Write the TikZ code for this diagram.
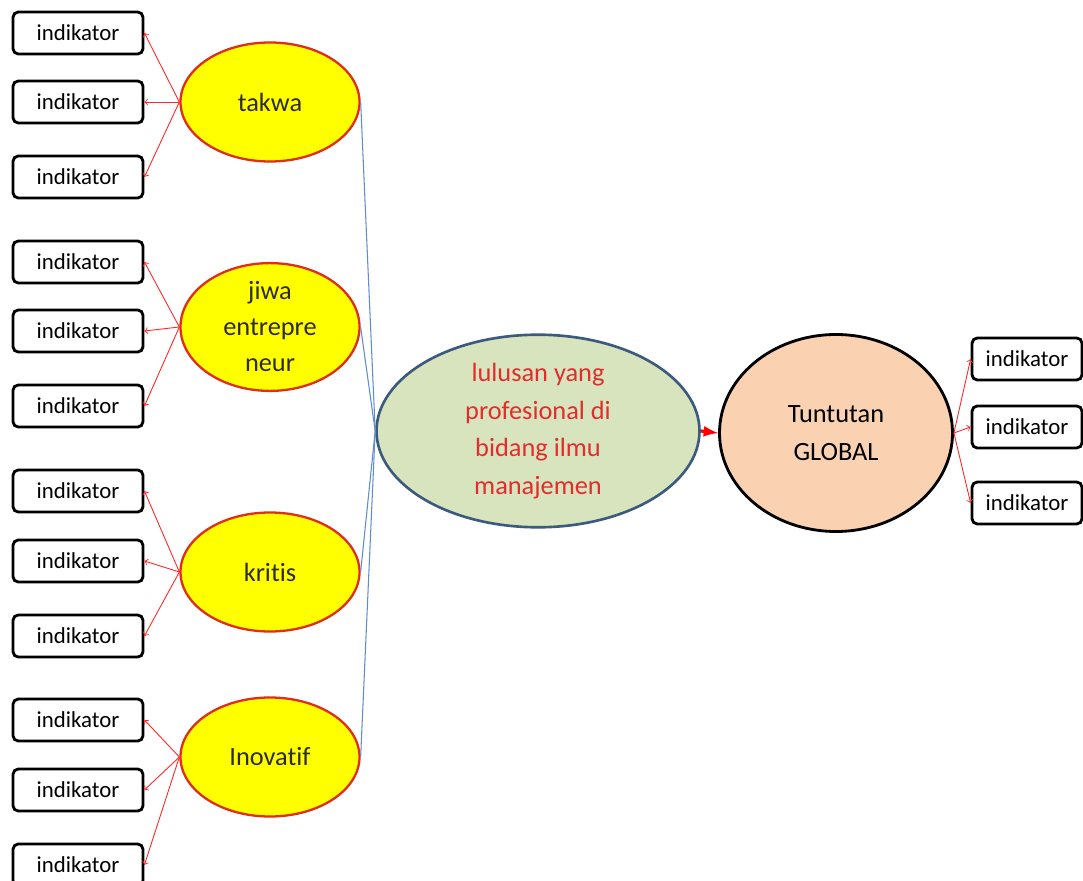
\documentclass[tikz,border=0pt]{standalone}
\usepackage{fontspec}
\setmainfont[Ligatures=NoCommon]{Carlito}
\usetikzlibrary{shapes.geometric}

\definecolor{kuning}{RGB}{255,255,0}
\definecolor{tepimerah}{RGB}{225,45,20}
\definecolor{hijau}{RGB}{215,228,189}
\definecolor{tepihijau}{RGB}{60,90,125}
\definecolor{jingga}{RGB}{250,210,178}
\definecolor{garisbiru}{RGB}{95,140,205}
\definecolor{teksmerah}{RGB}{225,45,45}

\tikzset{
  indik/.style={draw, rounded corners=3pt, line width=1.6pt, fill=white,
    minimum width=2.6cm, minimum height=0.84cm, inner sep=0pt,
    font=\fontsize{13}{15}\selectfont},
  sikap/.style={draw=tepimerah, fill=kuning, ellipse, line width=1.3pt,
    minimum width=3.58cm, minimum height=2.38cm, inner sep=0pt, align=center,
    text=black!90!olive, font=\fontsize{15}{20.5}\selectfont},
  panah/.style={->, red!85!white, line width=0.5pt},
  hubung/.style={garisbiru, line width=0.6pt}
}

\begin{document}
\begin{tikzpicture}
  \useasboundingbox[fill=white] (0,0) rectangle (21.66,-17.62);

  % sikap lulusan
  \node[sikap] (takwa)  at (5.4, -2.04)  {takwa};
  \node[sikap] (jiwa)   at (5.4, -6.54)  {jiwa\\entrepre\\neur};
  \node[sikap] (kritis) at (5.4, -11.44) {kritis};
  \node[sikap] (inov)   at (5.4, -15.14) {Inovatif};

  % indikator kiri
  \node[indik] (t1) at (1.56, -0.66)  {indikator};
  \node[indik] (t2) at (1.56, -2.04)  {indikator};
  \node[indik] (t3) at (1.56, -3.54)  {indikator};
  \node[indik] (j1) at (1.56, -5.24)  {indikator};
  \node[indik] (j2) at (1.56, -6.62)  {indikator};
  \node[indik] (j3) at (1.56, -8.12)  {indikator};
  \node[indik] (k1) at (1.56, -9.82)  {indikator};
  \node[indik] (k2) at (1.56, -11.22) {indikator};
  \node[indik] (k3) at (1.56, -12.72) {indikator};
  \node[indik] (i1) at (1.56, -14.4)  {indikator};
  \node[indik] (i2) at (1.56, -15.8)  {indikator};
  \node[indik] (i3) at (1.56, -17.3)  {indikator};

  \node[draw=tepihijau, fill=hijau, ellipse, line width=1.5pt,
        minimum width=6.46cm, minimum height=3.06cm, inner sep=0pt,
        align=center, text=teksmerah, font=\fontsize{15}{21.5}\selectfont]
        (lulus) at (10.76, -8.62) {lulusan yang\\profesional di\\bidang ilmu\\manajemen};
  \node[draw, fill=jingga, ellipse, line width=1.6pt,
        minimum width=4.66cm, minimum height=3.94cm, inner sep=0pt,
        align=center, font=\fontsize{15}{22}\selectfont]
        (global) at (16.72, -8.66) {Tuntutan\\GLOBAL};

  % indikator kanan
  \node[indik, minimum width=2.2cm] (g1) at (20.54, -7.18)  {indikator};
  \node[indik, minimum width=2.2cm] (g2) at (20.54, -8.54)  {indikator};
  \node[indik, minimum width=2.2cm] (g3) at (20.54, -10.06) {indikator};

  \draw[panah] (takwa.west) -- (t1.east);
  \draw[panah] (takwa.west) -- (t2.east);
  \draw[panah] (takwa.west) -- (t3.east);
  \draw[panah] (jiwa.west) -- (j1.east);
  \draw[panah] (jiwa.west) -- (j2.east);
  \draw[panah] (jiwa.west) -- (j3.east);
  \draw[panah] (kritis.west) -- (k1.east);
  \draw[panah] (kritis.west) -- (k2.east);
  \draw[panah] (kritis.west) -- (k3.east);
  \draw[panah] (inov.west) -- (i1.east);
  \draw[panah] (inov.west) -- (i2.east);
  \draw[panah] (inov.west) -- (i3.east);

  \draw[hubung] (takwa.east) -- (lulus.west);
  \draw[hubung] (jiwa.east) -- (lulus.west);
  \draw[hubung] (kritis.east) -- (lulus.west);
  \draw[hubung] (inov.east) -- (lulus.west);

  \draw[-latex, red, line width=1.8pt] (lulus.east) -- (global.west);

  \draw[panah] (global.east) -- (g1.west);
  \draw[panah] (global.east) -- (g2.west);
  \draw[panah] (global.east) -- (g3.west);
\end{tikzpicture}
\end{document}
